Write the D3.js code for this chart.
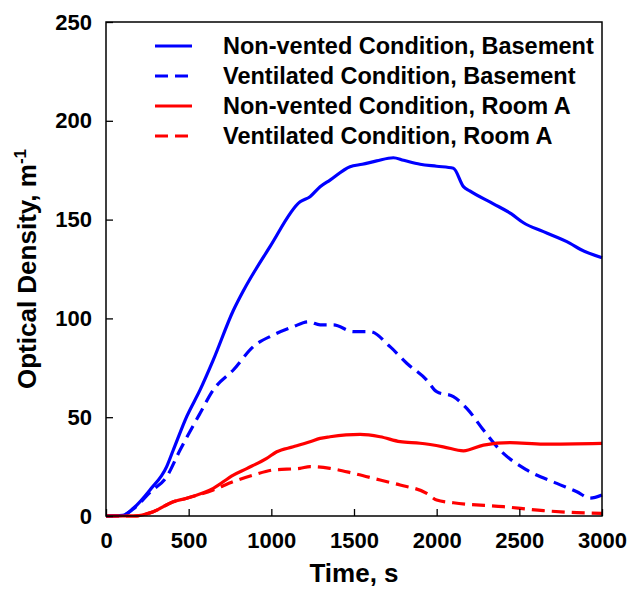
<!DOCTYPE html>
<html>
<head>
<meta charset="utf-8">
<script src="https://cdn.jsdelivr.net/npm/d3@7/dist/d3.min.js"></script>
<style>
body { margin: 0; background: #fff; }
text { font-family: "Liberation Sans", Arial, sans-serif; font-weight: bold; }
</style>
</head>
<body>
<div id="chart"></div>
<script>
// data (time in s, optical density in 1/m)
var nvBaseT = [0, 100, 165, 266, 367, 407, 488, 569, 649, 770, 831, 992, 1174, 1234, 1295, 1355, 1476, 1550, 1637, 1738, 1800, 1900, 2000, 2101, 2162, 2200, 2343, 2450, 2525, 2646, 2807, 2868, 3000];
var nvBaseV = [0, 0.3, 3.9, 13.2, 25, 33.4, 50.3, 63.8, 79, 104, 114, 136.3, 159, 161.6, 166.6, 170, 176.8, 178, 179.7, 181.3, 180, 178, 177, 176, 166.7, 164.5, 158, 153, 148.4, 143.9, 138, 135, 130.7];

var vBaseT = [0, 100, 165, 266, 367, 448, 569, 649, 770, 891, 1012, 1133, 1224, 1295, 1375, 1496, 1597, 1718, 1819, 1940, 2000, 2101, 2182, 2283, 2383, 2545, 2727, 2848, 2928, 3000];
var vBaseV = [0, 0.3, 3.5, 12, 19.9, 33.4, 52, 63.8, 73.9, 85.7, 91.6, 95.8, 98.3, 96.7, 96.7, 93.3, 93.3, 85.7, 77.3, 68.8, 62.9, 60.4, 54.5, 43.5, 33.4, 23.3, 16.5, 12.3, 9, 10.6];

var nvRoomT = [0, 165, 286, 407, 488, 649, 770, 851, 972, 1033, 1133, 1234, 1295, 1355, 1537, 1658, 1779, 1900, 2040, 2162, 2283, 2444, 2646, 3000];
var nvRoomV = [0, 0, 2.2, 7.2, 9, 14, 20.7, 24, 29.2, 32.5, 35, 37.6, 39.3, 40.1, 41.3, 40.1, 37.6, 36.8, 35, 33, 35.9, 37.1, 36.4, 36.8];

var vRoomT = [0, 165, 286, 407, 488, 649, 770, 891, 1012, 1173, 1234, 1355, 1496, 1658, 1779, 1940, 2000, 2101, 2404, 2646, 2848, 3000];
var vRoomV = [0, 0, 2.2, 7.2, 9, 13.2, 17.4, 20.7, 23.3, 24.1, 25, 24.1, 21.6, 18.2, 15.7, 11.5, 8.1, 6.7, 4.7, 2.7, 1.7, 1.3];

var seriesNames = ["Non-vented Condition, Basement", "Ventilated Condition, Basement", "Non-vented Condition, Room A", "Ventilated Condition, Room A"];
var xTicks = [0, 500, 1000, 1500, 2000, 2500, 3000];
var yTicks = [0, 50, 100, 150, 200, 250];

var series = [
  {name: seriesNames[0], t: nvBaseT, v: nvBaseV, color: "#0000ff", dash: null},
  {name: seriesNames[1], t: vBaseT, v: vBaseV, color: "#0000ff", dash: "13,7"},
  {name: seriesNames[2], t: nvRoomT, v: nvRoomV, color: "#ff0000", dash: null},
  {name: seriesNames[3], t: vRoomT, v: vRoomV, color: "#ff0000", dash: "13,7"}
];

var margin = {top: 22, right: 28, bottom: 74, left: 106},
    width = 630 - margin.left - margin.right,
    height = 590 - margin.top - margin.bottom;

var x = d3.scaleLinear().domain([0, 3000]).range([0, width]);
var y = d3.scaleLinear().domain([0, 250]).range([height, 0]);

var svg = d3.select("#chart").append("svg")
    .attr("width", 630)
    .attr("height", 590)
  .append("g")
    .attr("transform", "translate(" + margin.left + "," + margin.top + ")");

// curves
var line = d3.line()
    .x(function(d) { return x(d[0]); })
    .y(function(d) { return y(d[1]); })
    .curve(d3.curveMonotoneX);

series.forEach(function(s) {
  var pts = s.t.map(function(t, i) { return [t, s.v[i]]; });
  svg.append("path")
      .datum(pts)
      .attr("fill", "none")
      .attr("stroke", s.color)
      .attr("stroke-width", 3.2)
      .attr("stroke-dasharray", s.dash)
      .attr("d", line);
});

// axes, ticks inside
var xAxis = svg.append("g")
    .attr("transform", "translate(0," + height + ")")
    .call(d3.axisBottom(x).tickValues(xTicks).tickFormat(d3.format("d")).tickSizeInner(-7).tickSizeOuter(0).tickPadding(16));
var yAxis = svg.append("g")
    .call(d3.axisLeft(y).tickValues(yTicks).tickFormat(d3.format("d")).tickSizeInner(-7).tickSizeOuter(0).tickPadding(14));

[xAxis, yAxis].forEach(function(a) {
  a.selectAll("text").attr("font-size", 22).attr("font-family", "Liberation Sans, Arial, sans-serif").attr("font-weight", "bold").attr("fill", "#000");
  a.selectAll("line").attr("stroke", "#000").attr("stroke-width", 1.3);
  a.select(".domain").remove();
});

// frame
svg.append("rect")
    .attr("width", width)
    .attr("height", height)
    .attr("fill", "none")
    .attr("stroke", "#000")
    .attr("stroke-width", 1.5);

// axis titles
svg.append("text")
    .attr("x", width / 2)
    .attr("y", height + 66)
    .attr("text-anchor", "middle")
    .attr("font-size", 26)
    .text("Time, s");

var yt = svg.append("text")
    .attr("transform", "translate(-70," + (height / 2) + ") rotate(-90)")
    .attr("text-anchor", "middle")
    .attr("font-size", 26);
yt.append("tspan").text("Optical Density, m");
yt.append("tspan").attr("dy", -10).attr("font-size", 17).text("-1");

// legend
var legend = svg.selectAll(".legend")
    .data(series)
    .enter().append("g")
    .attr("class", "legend")
    .attr("transform", function(d, i) { return "translate(0," + (24 + i * 30) + ")"; });

legend.append("line")
    .attr("x1", 49).attr("x2", 86)
    .attr("stroke", function(d) { return d.color; })
    .attr("stroke-width", 3.2)
    .attr("stroke-dasharray", function(d) { return d.dash; });

legend.append("text")
    .attr("x", 117)
    .attr("dy", "0.35em")
    .attr("font-size", 23.5)
    .text(function(d) { return d.name; });
</script>
</body>
</html>
